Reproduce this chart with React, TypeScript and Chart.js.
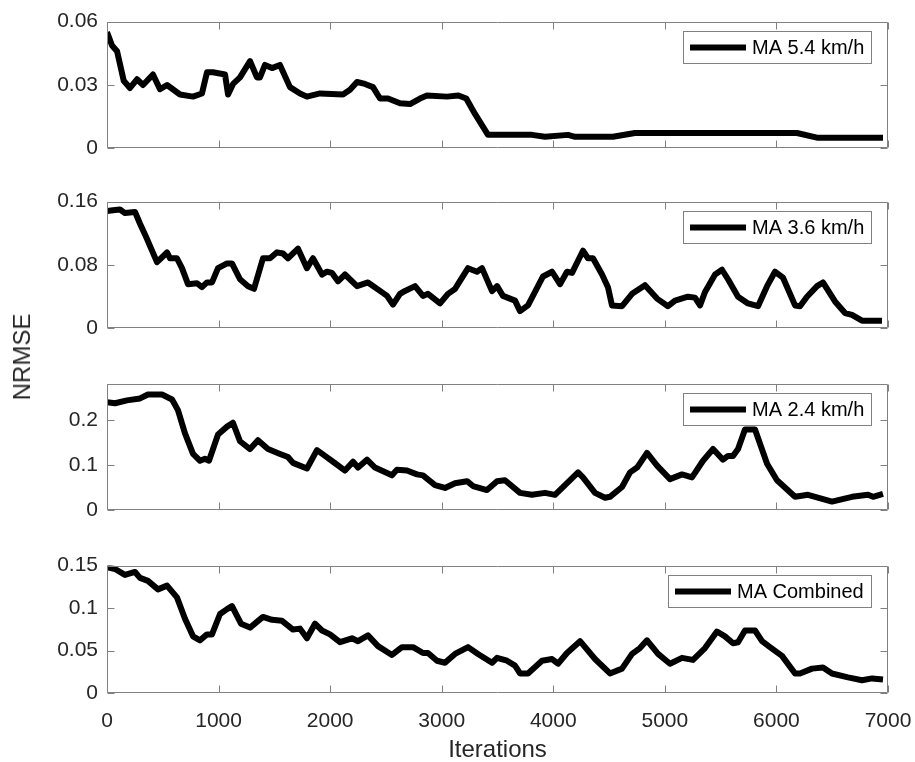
import React, { useEffect, useRef } from "react";
import { Chart, registerables } from "chart.js";

Chart.register(...registerables);

const FONT = '"Liberation Sans", Arial, Helvetica, sans-serif';
const TEXT = "#262626";
const AXIS = "#808080";

// ---------------- data ----------------
const xTickValues = [0, 1000, 2000, 3000, 4000, 5000, 6000, 7000];
const xMax = 7000;

const seriesLabels = ["MA 5.4 km/h", "MA 3.6 km/h", "MA 2.4 km/h", "MA Combined"];
const yMaxima = [0.06, 0.16, 0.28, 0.15];
const yTicks54 = [0, 0.03, 0.06];
const yTicks36 = [0, 0.08, 0.16];
const yTicks24 = [0, 0.1, 0.2];
const yTicksComb = [0, 0.05, 0.1, 0.15];

const ma54: [number, number][] = [
  [0, 0.055], [45, 0.0487], [90, 0.046], [150, 0.032], [206, 0.0286], [269, 0.0327],
  [323, 0.030], [412, 0.035], [475, 0.028], [538, 0.030], [654, 0.0255], [771, 0.0245],
  [851, 0.026], [896, 0.036], [950, 0.036], [1058, 0.035], [1085, 0.0255], [1130, 0.0305],
  [1192, 0.0336], [1282, 0.0413], [1344, 0.0336], [1371, 0.0336], [1416, 0.0395], [1479, 0.038],
  [1550, 0.0395], [1640, 0.029], [1730, 0.026], [1792, 0.0245], [1909, 0.026], [2115, 0.0255],
  [2178, 0.0277], [2241, 0.0314], [2312, 0.0305], [2384, 0.029], [2447, 0.0236], [2519, 0.0236],
  [2626, 0.0214], [2716, 0.021], [2805, 0.0236], [2868, 0.025], [3047, 0.0245], [3150, 0.025],
  [3220, 0.0236], [3298, 0.0163], [3415, 0.0064], [3809, 0.0064], [3926, 0.0055], [4132, 0.0064],
  [4195, 0.0055], [4535, 0.0055], [4732, 0.0073], [6184, 0.0073], [6373, 0.005], [6955, 0.005],
];

const ma36: [number, number][] = [
  [0, 0.148], [54, 0.149], [116, 0.150], [161, 0.1455], [251, 0.147], [296, 0.132], [358, 0.113],
  [448, 0.0836], [538, 0.0958], [565, 0.0885], [627, 0.0885], [672, 0.076], [726, 0.0558],
  [807, 0.057], [851, 0.052], [896, 0.058], [941, 0.058], [995, 0.076], [1076, 0.082], [1120, 0.082],
  [1192, 0.062], [1264, 0.0533], [1318, 0.050], [1398, 0.0885], [1461, 0.0885], [1524, 0.096],
  [1577, 0.0945], [1622, 0.0885], [1712, 0.1006], [1792, 0.076], [1846, 0.0885], [1927, 0.068],
  [1972, 0.0715], [2017, 0.070], [2070, 0.0594], [2133, 0.068], [2241, 0.0533], [2339, 0.058],
  [2447, 0.0473], [2510, 0.041], [2563, 0.030], [2626, 0.0436], [2671, 0.0473], [2761, 0.0533],
  [2832, 0.041], [2877, 0.0436], [2985, 0.0315], [3056, 0.0436], [3119, 0.0497], [3164, 0.060],
  [3236, 0.076], [3316, 0.0715], [3361, 0.076], [3451, 0.047], [3496, 0.0533], [3549, 0.041],
  [3657, 0.035], [3702, 0.0218], [3773, 0.029], [3836, 0.046], [3908, 0.0655], [3989, 0.0715],
  [4060, 0.0558], [4123, 0.0715], [4168, 0.070], [4266, 0.098], [4311, 0.0885], [4356, 0.0885],
  [4437, 0.068], [4490, 0.052], [4526, 0.029], [4616, 0.028], [4706, 0.0436], [4822, 0.0545],
  [4930, 0.0376], [5028, 0.028], [5091, 0.035], [5207, 0.040], [5270, 0.0388], [5315, 0.029],
  [5360, 0.046], [5450, 0.068], [5512, 0.074], [5566, 0.062], [5656, 0.040], [5745, 0.0315],
  [5835, 0.028], [5916, 0.0533], [5987, 0.0715], [6059, 0.064], [6167, 0.029], [6211, 0.028],
  [6274, 0.040], [6364, 0.0533], [6417, 0.058], [6525, 0.034], [6615, 0.0194], [6677, 0.017],
  [6767, 0.0097], [6946, 0.0097],
];

const ma24: [number, number][] = [
  [0, 0.239], [72, 0.2366], [179, 0.243], [296, 0.2473], [367, 0.256], [493, 0.256], [583, 0.245],
  [636, 0.2215], [699, 0.170], [771, 0.1247], [834, 0.1097], [878, 0.114], [914, 0.1097],
  [995, 0.1677], [1076, 0.185], [1129, 0.1935], [1192, 0.1527], [1282, 0.1355], [1353, 0.155],
  [1443, 0.1355], [1551, 0.1247], [1622, 0.118], [1667, 0.105], [1792, 0.0925], [1882, 0.133],
  [1954, 0.1204], [2026, 0.1075], [2133, 0.088], [2205, 0.1075], [2250, 0.0946], [2330, 0.112],
  [2402, 0.0946], [2554, 0.0774], [2599, 0.090], [2689, 0.088], [2778, 0.0795], [2832, 0.0774],
  [2940, 0.056], [3029, 0.0495], [3119, 0.060], [3227, 0.0645], [3280, 0.0538], [3406, 0.045],
  [3496, 0.0645], [3567, 0.0667], [3702, 0.0387], [3809, 0.0344], [3926, 0.0387], [4015, 0.0344],
  [4105, 0.056], [4222, 0.084], [4266, 0.073], [4374, 0.0387], [4464, 0.028], [4508, 0.030],
  [4616, 0.0516], [4688, 0.084], [4751, 0.0946], [4840, 0.127], [4930, 0.099], [5046, 0.069],
  [5154, 0.0795], [5243, 0.073], [5342, 0.1097], [5432, 0.1355], [5521, 0.112], [5566, 0.1204],
  [5611, 0.1204], [5656, 0.1355], [5718, 0.1785], [5808, 0.1785], [5916, 0.103], [6005, 0.0667],
  [6167, 0.030], [6283, 0.0344], [6498, 0.0194], [6677, 0.030], [6821, 0.0344], [6866, 0.030],
  [6955, 0.0366],
];

const maCombined: [number, number][] = [
  [0, 0.148], [72, 0.146], [161, 0.139], [251, 0.1425], [296, 0.1356], [367, 0.132], [457, 0.122],
  [538, 0.1264], [627, 0.1126], [699, 0.0874], [771, 0.0667], [834, 0.062], [896, 0.069],
  [941, 0.069], [1013, 0.093], [1076, 0.0988], [1120, 0.1023], [1201, 0.0816], [1282, 0.077],
  [1398, 0.0896], [1479, 0.0862], [1569, 0.085], [1667, 0.0747], [1730, 0.0758], [1792, 0.0644],
  [1864, 0.0816], [1927, 0.0736], [1999, 0.069], [2088, 0.0598], [2196, 0.0644], [2250, 0.061],
  [2339, 0.0678], [2429, 0.0552], [2554, 0.0448], [2644, 0.054], [2743, 0.054], [2832, 0.0471],
  [2877, 0.0471], [2958, 0.038], [3029, 0.0356], [3119, 0.046], [3236, 0.054], [3325, 0.046],
  [3451, 0.0356], [3496, 0.0414], [3585, 0.038], [3657, 0.0322], [3702, 0.023], [3773, 0.023],
  [3899, 0.038], [3989, 0.040], [4042, 0.0345], [4123, 0.0471], [4240, 0.061], [4374, 0.040],
  [4508, 0.023], [4616, 0.0287], [4706, 0.046], [4777, 0.0529], [4840, 0.062], [4939, 0.046],
  [5046, 0.0345], [5154, 0.0414], [5252, 0.039], [5360, 0.0529], [5467, 0.0724], [5539, 0.0667],
  [5611, 0.0586], [5656, 0.0598], [5718, 0.0736], [5808, 0.0736], [5871, 0.061], [5942, 0.054],
  [6050, 0.0437], [6167, 0.023], [6211, 0.023], [6319, 0.0287], [6417, 0.030], [6498, 0.023],
  [6642, 0.0184], [6767, 0.015], [6857, 0.0172], [6955, 0.016],
];

const seriesData = [ma54, ma36, ma24, maCombined];
const seriesYTicks = [yTicks54, yTicks36, yTicks24, yTicksComb];

// ---------------- layout (not data) ----------------
const panelLayout = [
  { top: 0, height: 170, padTop: 17, padBottom: 21, showX: false },
  { top: 180, height: 170, padTop: 19, padBottom: 19, showX: false },
  { top: 362, height: 170, padTop: 19, padBottom: 21, showX: false },
  { top: 544, height: 218, padTop: 19, padBottom: 0, showX: true },
];

const framePlugin = {
  id: "matlabFrame",
  afterDatasetsDraw(chart: any, _args: any, opts: any) {
    const { ctx, chartArea: a } = chart;
    const xs = chart.scales.x;
    const ys = chart.scales.y;
    const L = Math.round(a.left) + 0.5;
    const R = Math.round(a.right) - 0.5;
    const T = Math.round(a.top) + 0.5;
    const B = Math.round(a.bottom) - 0.5;
    const tl = 7;
    ctx.save();
    ctx.strokeStyle = AXIS;
    ctx.lineWidth = 1;
    ctx.beginPath();
    ctx.rect(L, T, R - L, B - T);
    for (const v of xTickValues) {
      const px = Math.round(xs.getPixelForValue(v)) + 0.5;
      ctx.moveTo(px, B);
      ctx.lineTo(px, B - tl);
      ctx.moveTo(px, T);
      ctx.lineTo(px, T + tl);
    }
    for (const v of opts.yTicks as number[]) {
      const py = Math.round(ys.getPixelForValue(v)) + 0.5;
      ctx.moveTo(L, py);
      ctx.lineTo(L + tl, py);
      ctx.moveTo(R, py);
      ctx.lineTo(R - tl, py);
    }
    ctx.stroke();

    // legend box
    const label = chart.data.datasets[0].label as string;
    ctx.font = `20px ${FONT}`;
    const tw = ctx.measureText(label).width;
    const h = 33;
    const w = 7 + 56 + 6 + tw + 8;
    const right = Math.round(a.right) - 16;
    const left = Math.round(right - w);
    const top = Math.round(a.top) + 9;
    ctx.fillStyle = "#ffffff";
    ctx.fillRect(left, top, right - left, h);
    ctx.strokeStyle = AXIS;
    ctx.lineWidth = 1;
    ctx.strokeRect(left + 0.5, top + 0.5, right - left - 1, h - 1);
    ctx.strokeStyle = "#000000";
    ctx.lineWidth = 6;
    ctx.beginPath();
    ctx.moveTo(left + 7, top + h / 2);
    ctx.lineTo(left + 63, top + h / 2);
    ctx.stroke();
    ctx.fillStyle = "#000000";
    ctx.textBaseline = "middle";
    ctx.textAlign = "left";
    ctx.fillText(label, left + 69, top + h / 2 + 1);
    ctx.restore();
  },
};

function Panel({ index }: { index: number }) {
  const ref = useRef<HTMLCanvasElement | null>(null);
  const lay = panelLayout[index];
  useEffect(() => {
    if (!ref.current) return;
    const yTicks = seriesYTicks[index];
    const chart = new Chart(ref.current, {
      type: "line",
      data: {
        datasets: [
          {
            label: seriesLabels[index],
            data: seriesData[index].map(([x, y]) => ({ x, y })),
            borderColor: "#000000",
            borderWidth: 6,
            borderJoinStyle: "round",
            pointRadius: 0,
            tension: 0,
            fill: false,
          },
        ],
      },
      options: {
        responsive: false,
        animation: false,
        events: [],
        layout: { padding: { left: 0, right: 27, top: lay.padTop, bottom: lay.padBottom } },
        plugins: {
          legend: { display: false },
          tooltip: { enabled: false },
          matlabFrame: { yTicks },
        } as any,
        scales: {
          x: {
            type: "linear",
            min: 0,
            max: xMax,
            display: lay.showX,
            grid: { display: false, drawTicks: false },
            border: { display: false },
            afterBuildTicks: (s: any) => {
              s.ticks = xTickValues.map((v) => ({ value: v }));
            },
            afterFit: (s: any) => {
              if (lay.showX) s.height = 69;
              s.paddingLeft = 0;
              s.paddingRight = 0;
            },
            ticks: {
              padding: 16,
              color: TEXT,
              font: { family: FONT, size: 21 },
              maxRotation: 0,
              autoSkip: false,
              callback: (v: any) => String(v),
            },
            title: {
              display: lay.showX,
              text: "Iterations",
              color: TEXT,
              font: { family: FONT, size: 24, lineHeight: 1 },
              padding: 0,
            },
          },
          y: {
            type: "linear",
            min: 0,
            max: yMaxima[index],
            grid: { display: false, drawTicks: false },
            border: { display: false },
            afterBuildTicks: (s: any) => {
              s.ticks = yTicks.map((v) => ({ value: v }));
            },
            afterFit: (s: any) => {
              s.width = 107;
            },
            ticks: {
              padding: 9,
              color: TEXT,
              font: { family: FONT, size: 21 },
              autoSkip: false,
              callback: (v: any) => String(v),
            },
          },
        },
      } as any,
      plugins: [framePlugin],
    });
    return () => chart.destroy();
  }, [index]);
  return (
    <canvas
      ref={ref}
      width={915}
      height={lay.height}
      style={{ position: "absolute", left: 0, top: lay.top, width: 915, height: lay.height, display: "block" }}
    />
  );
}

export default function App() {
  return (
    <div
      style={{
        position: "absolute",
        left: 0,
        top: 0,
        width: 915,
        height: 762,
        background: "#ffffff",
        overflow: "hidden",
      }}
    >
      {[0, 1, 2, 3].map((i) => (
        <Panel key={i} index={i} />
      ))}
      <div
        style={{
          position: "absolute",
          left: 22,
          top: 357,
          transform: "translate(-50%, -50%) rotate(-90deg)",
          fontFamily: FONT,
          fontSize: 24,
          color: TEXT,
          whiteSpace: "nowrap",
          lineHeight: 1,
        }}
      >
        NRMSE
      </div>
    </div>
  );
}
